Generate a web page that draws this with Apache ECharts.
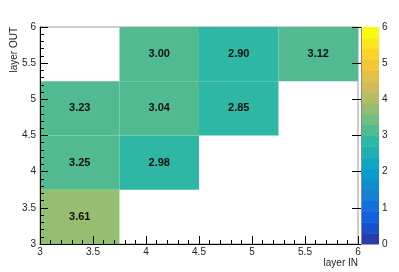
<!DOCTYPE html>
<html>
<head>
<meta charset="utf-8">
<script src="https://cdn.jsdelivr.net/npm/echarts@6/dist/echarts.min.js"></script>
<style>html,body{margin:0;padding:0;background:#fff;}#c{width:399px;height:272px;}</style>
</head>
<body>
<div id="c"></div>
<script>
// bin edges
var xEdges = [3, 3.75, 4.5, 5.25, 6];
var yEdges = [3, 3.75, 4.5, 5.25, 6];
// filled cells: bin indices and contents
var cellX = [0, 0, 0, 1, 1, 1, 2, 2, 3];
var cellY = [0, 1, 2, 1, 2, 3, 2, 3, 3];
var cellZ = [3.61, 3.25, 3.23, 2.98, 3.04, 3.00, 2.85, 2.90, 3.12];
// axis ticks
var xTicks = [3, 3.5, 4, 4.5, 5, 5.5, 6];
var yTicks = [3, 3.5, 4, 4.5, 5, 5.5, 6];
var zTicks = [0, 1, 2, 3, 4, 5, 6];
var zMin = 0, zMax = 6, nLevels = 20;

// ROOT kBird palette
var st = [0.0000, 0.1250, 0.2500, 0.3750, 0.5000, 0.6250, 0.7500, 0.8750, 1.0000];
var rr = [0.2082, 0.0592, 0.0780, 0.0232, 0.1802, 0.5301, 0.8186, 0.9956, 0.9764];
var gg = [0.1664, 0.3599, 0.5041, 0.6419, 0.7178, 0.7492, 0.7328, 0.7862, 0.9832];
var bb = [0.5293, 0.8684, 0.8385, 0.7914, 0.6425, 0.4662, 0.3499, 0.1968, 0.0539];
function pal(k) {
  var f = k / 254;
  for (var i = 1; i < st.length; i++) {
    if (f <= st[i] + 1e-9) {
      var t = (f - st[i - 1]) / (st[i] - st[i - 1]);
      var c = [rr, gg, bb].map(function (a) { return Math.round(255 * (a[i - 1] + t * (a[i] - a[i - 1]))); });
      return 'rgb(' + c.join(',') + ')';
    }
  }
  return 'rgb(249,251,14)';
}
function levelColor(l) { return pal(Math.floor((l + 0.99) * 255 / nLevels)); }
function zColor(z) {
  var l = Math.floor((z - zMin) / (zMax - zMin) * nLevels);
  if (l >= nLevels) l = nLevels - 1;
  return levelColor(l);
}

var cellData = cellZ.map(function (z, i) {
  return [xEdges[cellX[i]], xEdges[cellX[i] + 1], yEdges[cellY[i]], yEdges[cellY[i] + 1], z];
});
var bandData = [];
for (var l = 0; l < nLevels; l++) {
  bandData.push([0, 1, zMin + l * (zMax - zMin) / nLevels, zMin + (l + 1) * (zMax - zMin) / nLevels, l]);
}

var FONT = 'Liberation Sans, Arial, sans-serif';
var chart = echarts.init(document.getElementById('c'), null, {renderer: 'canvas'});
chart.setOption({
  animation: false,
  grid: [
    {left: 40, right: 41, top: 27, height: 217, show: true, borderColor: '#9a9a9a', borderWidth: 1, backgroundColor: 'transparent'},
    {left: 361, width: 18, top: 27, height: 217}
  ],
  xAxis: [
    {
      gridIndex: 0, type: 'value', min: 3, max: 6, interval: 0.5, z: 10,
      name: 'layer IN', nameLocation: 'end', nameGap: 0,
      nameTextStyle: {fontFamily: FONT, fontSize: 10, color: '#222', align: 'right', verticalAlign: 'top', padding: [14, 0, 0, 0]},
      axisLine: {show: true, lineStyle: {color: '#000', width: 1}},
      axisTick: {show: true, inside: true, length: 8, lineStyle: {color: '#000'}},
      minorTick: {show: true, splitNumber: 5, length: 4, lineStyle: {color: '#000'}},
      axisLabel: {fontFamily: FONT, fontSize: 10, color: '#222', margin: 3,
        customValues: xTicks},
      splitLine: {show: false}
    },
    {gridIndex: 1, type: 'value', min: 0, max: 1, show: false}
  ],
  yAxis: [
    {
      gridIndex: 0, type: 'value', min: 3, max: 6, interval: 0.5, z: 10,
      name: 'layer OUT', nameLocation: 'end', nameGap: 0, nameRotate: 90,
      nameTextStyle: {fontFamily: FONT, fontSize: 10, color: '#222', align: 'right', verticalAlign: 'bottom', padding: [0, 0, 21, 0]},
      axisLine: {show: true, lineStyle: {color: '#000', width: 1}},
      axisTick: {show: true, inside: true, length: 8, lineStyle: {color: '#000'}},
      minorTick: {show: true, splitNumber: 5, length: 4, lineStyle: {color: '#000'}},
      axisLabel: {fontFamily: FONT, fontSize: 10, color: '#222', margin: 4},
      splitLine: {show: false}
    },
    {
      gridIndex: 1, type: 'value', min: zMin, max: zMax, interval: 1, position: 'right', z: 10,
      axisLine: {show: true, lineStyle: {color: '#888', width: 1}},
      axisTick: {show: true, inside: true, length: 9, lineStyle: {color: '#000'}},
      axisLabel: {fontFamily: FONT, fontSize: 10, color: '#222', margin: 3},
      splitLine: {show: false}
    }
  ],
  series: [
    {
      type: 'custom', xAxisIndex: 0, yAxisIndex: 0, z: 1,
      data: cellData,
      encode: {x: [0, 1], y: [2, 3]},
      renderItem: function (params, api) {
        var p0 = api.coord([api.value(0), api.value(2)]);
        var p1 = api.coord([api.value(1), api.value(3)]);
        var z = api.value(4);
        var col = zColor(z);
        return {
          type: 'group',
          children: [
            {type: 'rect', shape: {x: p0[0], y: p1[1], width: p1[0] - p0[0], height: p0[1] - p1[1]},
             style: {fill: col, stroke: null}},
            {type: 'text', x: (p0[0] + p1[0]) / 2, y: (p0[1] + p1[1]) / 2,
             style: {text: z.toFixed(2), fill: '#111', font: 'bold 11px ' + FONT, align: 'center', verticalAlign: 'middle'}}
          ]
        };
      }
    },
    {
      type: 'custom', xAxisIndex: 1, yAxisIndex: 1, z: 1,
      data: bandData,
      encode: {x: [0, 1], y: [2, 3]},
      renderItem: function (params, api) {
        var p0 = api.coord([api.value(0), api.value(2)]);
        var p1 = api.coord([api.value(1), api.value(3)]);
        return {type: 'rect', shape: {x: p0[0], y: p1[1], width: p1[0] - p0[0], height: p0[1] - p1[1] + 0.5},
          style: {fill: levelColor(api.value(4)), stroke: null}};
      }
    }
  ]
});
</script>
</body>
</html>
